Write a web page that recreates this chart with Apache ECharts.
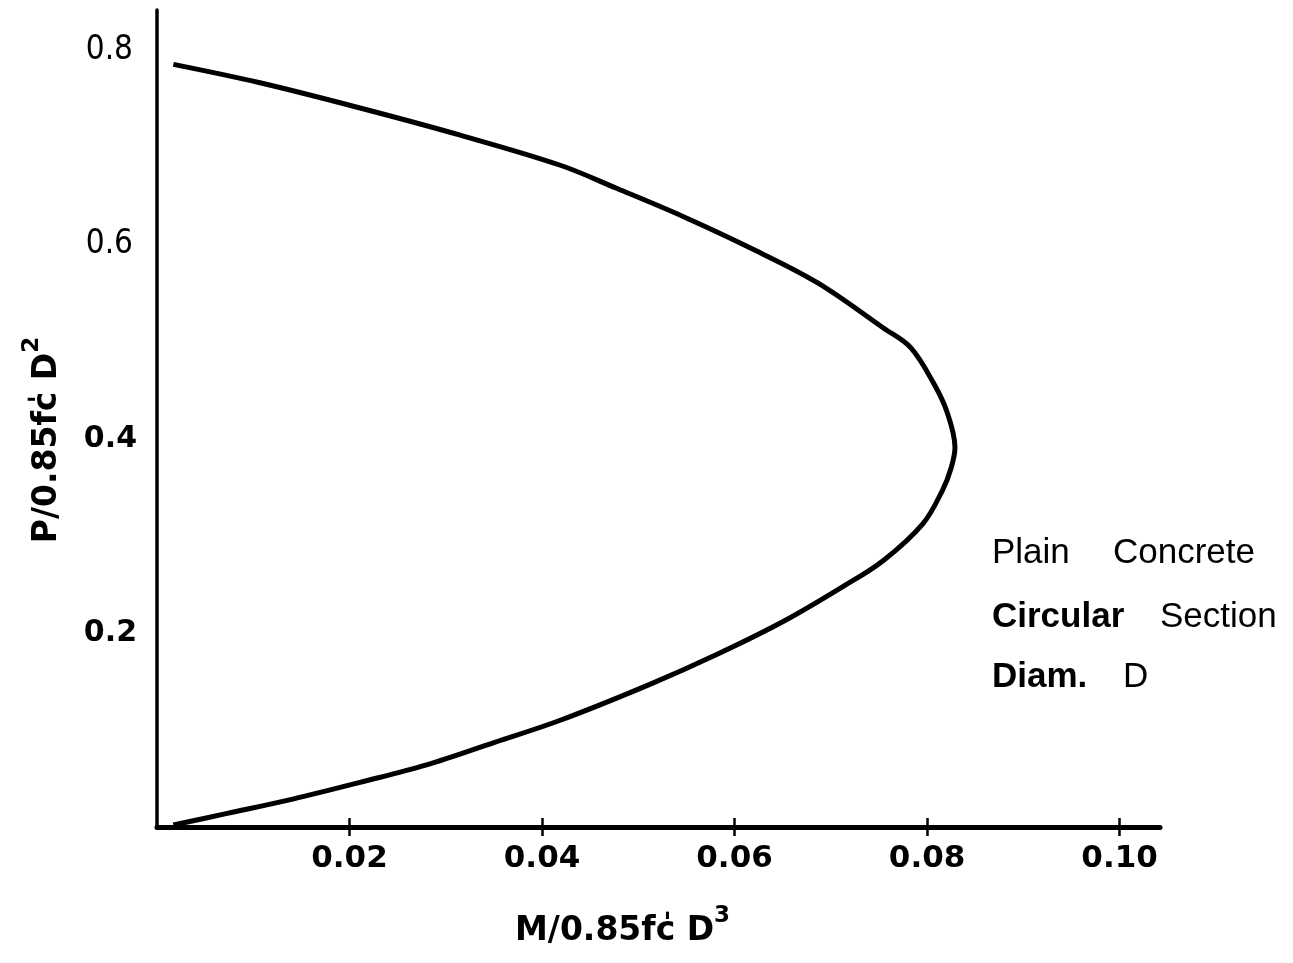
<!DOCTYPE html>
<html>
<head>
<meta charset="utf-8">
<title>Plain concrete circular section interaction curve</title>
<script src="https://cdn.jsdelivr.net/npm/echarts@6/dist/echarts.min.js"></script>
<style>
  html, body { margin: 0; padding: 0; background: #fff; }
  #chart { width: 1293px; height: 963px; }
</style>
</head>
<body>
<div id="chart"></div>
<script>
// Interaction curve: moment M/0.85f'cD^3 against axial load P/0.85f'cD^2,
// traced from the top branch (high P) round the nose and back down to P = 0.
const momentValues = [
  0.0017, 0.0107, 0.0211, 0.0315, 0.0419, 0.0478, 0.0547, 0.0616, 0.0686,
  0.0755, 0.0783, 0.0807, 0.0821, 0.0829, 0.0825, 0.0816, 0.0796,
  0.0755, 0.0713, 0.0651, 0.0582, 0.0512, 0.0419, 0.0350, 0.0280, 0.0211,
  0.0142, 0.0073, 0.0017
];
const loadValues = [
  0.786, 0.767, 0.741, 0.713, 0.682, 0.658, 0.629, 0.597, 0.561,
  0.514, 0.494, 0.457, 0.427, 0.391, 0.370, 0.347, 0.313,
  0.275, 0.248, 0.212, 0.178, 0.147, 0.110, 0.087, 0.064, 0.046,
  0.029, 0.014, 0.002
];

const xTickValues = [0.02, 0.04, 0.06, 0.08, 0.10];
const xTickLabels = ['0.02', '0.04', '0.06', '0.08', '0.10'];
const yTickValues = [0.2, 0.4, 0.6, 0.8];
const yTickLabels = ['0.2', '0.4', '0.6', '0.8'];

// Note block in the right-hand part of the plot: word, bold?, left, top
const noteWords = ['Plain', 'Concrete', 'Circular', 'Section', 'Diam.', 'D'];
const noteBold = [false, false, true, false, true, false];
const noteLeft = [992, 1113, 992, 1160, 992, 1123];
const noteTop = [536, 536, 600, 600, 660, 660];

const curve = momentValues.map((m, i) => [m, loadValues[i]]);

const boldFont = '"DejaVu Sans", sans-serif';
const plainFont = '"Liberation Sans", Arial, sans-serif';

const chart = echarts.init(document.getElementById('chart'), null, { renderer: 'canvas' });

const tickFormatter = (values, labels) => v => {
  const idx = values.findIndex(t => Math.abs(t - v) < 1e-9);
  return idx < 0 ? '' : labels[idx];
};

const option = {
  backgroundColor: '#ffffff',
  animation: false,
  grid: { left: 157, right: 133, top: 10, bottom: 136, containLabel: false },
  xAxis: [
    {
      type: 'value',
      min: 0,
      max: 0.1042,
      axisLine: { show: true, onZero: false, lineStyle: { color: '#000', width: 5 } },
      axisTick: {
        show: true, inside: false, length: 9,
        customValues: xTickValues,
        lineStyle: { color: '#000', width: 2.5 }
      },
      axisLabel: {
        show: true,
        customValues: xTickValues,
        margin: 16,
        color: '#000',
        fontFamily: boldFont,
        fontWeight: 'bold',
        fontSize: 31,
        formatter: tickFormatter(xTickValues, xTickLabels)
      },
      splitLine: { show: false }
    },
    {
      // upper half of the crossing tick marks
      type: 'value',
      position: 'bottom',
      min: 0,
      max: 0.1042,
      axisLine: { show: false },
      axisTick: {
        show: true, inside: true, length: 9,
        customValues: xTickValues,
        lineStyle: { color: '#000', width: 2.5 }
      },
      axisLabel: { show: false },
      splitLine: { show: false }
    }
  ],
  yAxis: {
    type: 'value',
    min: 0,
    max: 0.842,
    axisLine: { show: true, onZero: false, lineStyle: { color: '#000', width: 3.5 } },
    axisTick: { show: false },
    axisLabel: {
      show: true,
      customValues: yTickValues,
      margin: 20,
      color: '#000',
      formatter: v => {
        const text = tickFormatter(yTickValues, yTickLabels)(v);
        if (!text) return '';
        return (v > 0.5 ? '{thin|' : '{bold|') + text + '}';
      },
      rich: {
        thin: { fontFamily: '"DejaVu Sans Condensed", "DejaVu Sans", sans-serif', fontSize: 33, color: '#000', padding: [0, 4, 0, 0] },
        bold: { fontFamily: boldFont, fontWeight: 'bold', fontSize: 30, color: '#000' }
      }
    },
    splitLine: { show: false }
  },
  series: [
    {
      type: 'line',
      data: curve,
      smooth: 0.35,
      symbol: 'none',
      clip: false,
      lineStyle: { color: '#000', width: 5, cap: 'butt', join: 'round' },
      z: 3
    }
  ],
  graphic: [
    {
      type: 'text',
      left: 515,
      top: 905,
      style: {
        text: '{m|M/0.85fc\u030D D}{s|3}',
        rich: {
          m: { fontFamily: boldFont, fontWeight: 'bold', fontSize: 33, fill: '#000', verticalAlign: 'bottom' },
          s: { fontFamily: boldFont, fontWeight: 'bold', fontSize: 23, fill: '#000', verticalAlign: 'top', padding: [0, 0, 20, 0] }
        }
      }
    },
    {
      type: 'text',
      x: 42,
      y: 440,
      rotation: Math.PI / 2,
      style: {
        text: '{m|P/0.85fc\u030D D}{s|2}',
        align: 'center',
        verticalAlign: 'middle',
        rich: {
          m: { fontFamily: boldFont, fontWeight: 'bold', fontSize: 33, fill: '#000', verticalAlign: 'bottom' },
          s: { fontFamily: boldFont, fontWeight: 'bold', fontSize: 23, fill: '#000', verticalAlign: 'top', padding: [0, 0, 20, 0] }
        }
      }
    },
    ...noteWords.map((word, i) => ({
      type: 'text',
      left: noteLeft[i],
      top: noteTop[i],
      style: {
        text: word,
        fontFamily: plainFont,
        fontWeight: noteBold[i] ? 'bold' : 'normal',
        fontSize: 35,
        fill: '#000'
      }
    }))
  ]
};

chart.setOption(option);
</script>
</body>
</html>
